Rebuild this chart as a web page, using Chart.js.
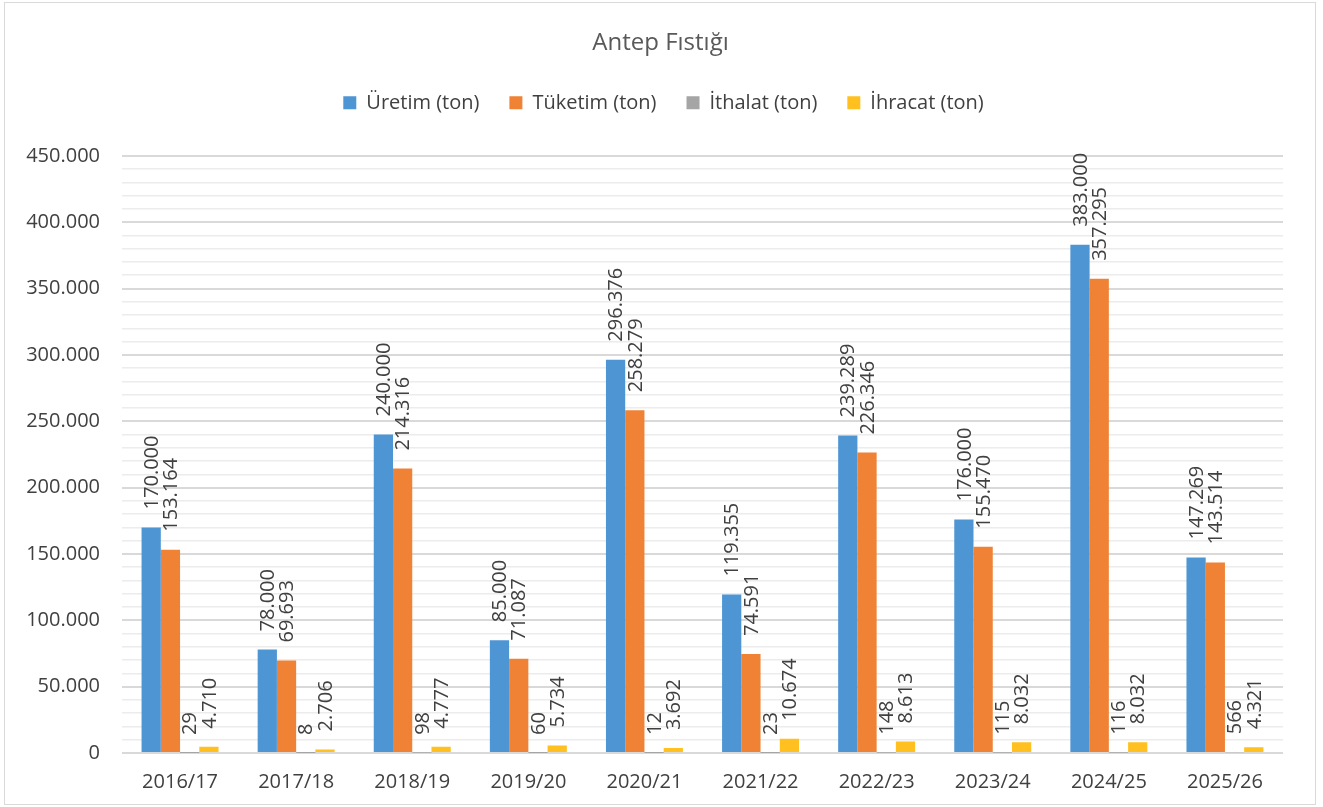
<!DOCTYPE html>
<html>
<head>
<meta charset="utf-8">
<script src="https://cdn.jsdelivr.net/npm/chart.js@4"></script>
<style>
    body { margin: 0; background: #fff; }
    #frame { position: absolute; left: 4px; top: 2px; width: 1310px; height: 801px; border: 1px solid #d9d9d9; }
    #wrap { position: absolute; left: 0; top: 0; width: 1323px; height: 807px; }
</style>
</head>
<body>
<div id="frame"></div>
<div id="wrap"><canvas id="chart" width="1323" height="807"></canvas></div>
<script>
const seasons = ['2016/17', '2017/18', '2018/19', '2019/20', '2020/21', '2021/22', '2022/23', '2023/24', '2024/25', '2025/26'];
const uretim = [170000, 78000, 240000, 85000, 296376, 119355, 239289, 176000, 383000, 147269];
const tuketim = [153164, 69693, 214316, 71087, 258279, 74591, 226346, 155470, 357295, 143514];
const ithalat = [29, 8, 98, 60, 12, 23, 148, 115, 116, 566];
const ihracat = [4710, 2706, 4777, 5734, 3692, 10674, 8613, 8032, 8032, 4321];
const yTicks = [0, 50000, 100000, 150000, 200000, 250000, 300000, 350000, 400000, 450000];

const FONT = '"Open Sans", sans-serif';

function formatNum(n) {
    return String(n).replace(/\B(?=(\d{3})+(?!\d))/g, '.');
}

// draws the values vertically above each bar, like the excel labels
const barLabels = {
    id: 'barLabels',
    afterDatasetsDraw(chart) {
        const ctx = chart.ctx;
        ctx.save();
        ctx.font = '20px ' + FONT;
        ctx.fillStyle = '#404040';
        ctx.textAlign = 'left';
        ctx.textBaseline = 'middle';
        chart.data.datasets.forEach(function(ds, i) {
            const meta = chart.getDatasetMeta(i);
            meta.data.forEach(function(bar, j) {
                ctx.save();
                ctx.translate(bar.x + 1, bar.y - 18);
                ctx.rotate(-Math.PI / 2);
                ctx.fillText(formatNum(ds.data[j]), 0, 0);
                ctx.restore();
            });
        });
        ctx.restore();
    }
};

// extra room between the legend and the plot, and center title/legend over the plot
const legendGap = {
    id: 'legendGap',
    beforeInit(chart) {
        const fit = chart.legend.fit;
        chart.legend.fit = function() {
            fit.call(this);
            this.height += 33;
        };
    },
    afterLayout(chart) {
        chart.titleBlock.left += 19;
        chart.titleBlock.right += 19;
        chart.legend.left += 22;
        chart.legend.right += 22;
    }
};

new Chart(document.getElementById('chart'), {
    type: 'bar',
    data: {
        labels: seasons,
        datasets: [
            { label: 'Üretim (ton)', data: uretim, backgroundColor: '#4E95D4' },
            { label: 'Tüketim (ton)', data: tuketim, backgroundColor: '#F08236' },
            { label: 'İthalat (ton)', data: ithalat, backgroundColor: '#A5A5A5' },
            { label: 'İhracat (ton)', data: ihracat, backgroundColor: '#FFC020' }
        ]
    },
    options: {
        responsive: false,
        animation: false,
        layout: { padding: { left: 0, right: 40, top: 20, bottom: 4 } },
        datasets: { bar: { categoryPercentage: 0.663, barPercentage: 1 } },
        plugins: {
            title: {
                display: true,
                text: 'Antep Fıstığı',
                color: '#595959',
                font: { family: FONT, size: 24, weight: 'normal' },
                padding: { top: 9, bottom: 5 }
            },
            legend: {
                labels: {
                    color: '#404040',
                    font: { family: FONT, size: 20 },
                    boxWidth: 13,
                    boxHeight: 13,
                    padding: 30
                }
            },
            tooltip: { enabled: false }
        },
        scales: {
            x: {
                grid: { display: false },
                border: { display: false },
                ticks: { color: '#404040', font: { family: FONT, size: 20 }, padding: 9 }
            },
            y: {
                min: 0,
                max: 450000,
                afterFit: function(scale) { scale.width = 122; },
                border: { display: false },
                grid: {
                    drawTicks: false,
                    color: function(c) { return c.tick.value % 50000 === 0 ? '#d9d9d9' : '#ececec'; },
                    lineWidth: function(c) { return c.tick.value % 50000 === 0 ? 2 : 1.5; }
                },
                ticks: {
                    stepSize: 10000,
                    autoSkip: false,
                    padding: 22,
                    color: '#404040',
                    font: { family: FONT, size: 20 },
                    callback: function(v) { return yTicks.indexOf(v) >= 0 ? formatNum(v) : ''; }
                }
            }
        }
    },
    plugins: [barLabels, legendGap]
});
</script>
</body>
</html>
